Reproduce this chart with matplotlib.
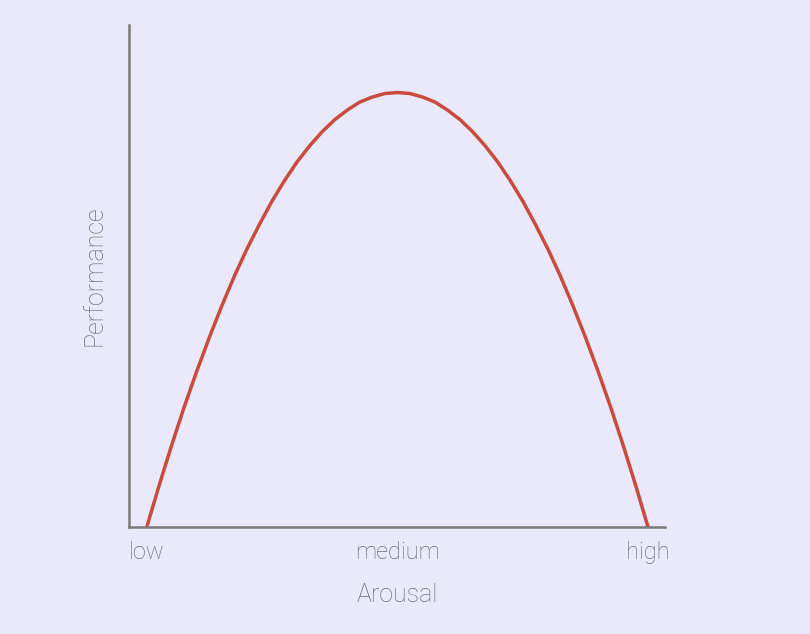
import matplotlib.pyplot as plt

# values
arousal = [0.0, 0.05, 0.1, 0.15, 0.2, 0.25, 0.3, 0.35, 0.4, 0.45, 0.5,
           0.55, 0.6, 0.65, 0.7, 0.75, 0.8, 0.85, 0.9, 0.95, 1.0,
           1.05, 1.1, 1.15, 1.2, 1.25, 1.3, 1.35, 1.4, 1.45, 1.5,
           1.55, 1.6, 1.65, 1.7, 1.75, 1.8, 1.85, 1.9, 1.95, 2.0]
performance = [0.0, 0.084, 0.164, 0.240, 0.311, 0.378, 0.441, 0.500, 0.554, 0.603, 0.649,
               0.690, 0.727, 0.759, 0.787, 0.811, 0.830, 0.846, 0.856, 0.863, 0.865,
               0.863, 0.856, 0.846, 0.830, 0.811, 0.787, 0.759, 0.727, 0.690, 0.649,
               0.603, 0.554, 0.500, 0.441, 0.378, 0.311, 0.240, 0.164, 0.084, 0.0]
tick_pos = [0, 1, 2]
tick_labels = ['low', 'medium', 'high']

plt.rcParams['font.family'] = ['Roboto', 'DejaVu Sans']

bg = '#EAE9FB'
fig = plt.figure(figsize=(8.1, 6.34), dpi=100, facecolor=bg)
ax = fig.add_axes([0.159, 0.169, 0.662, 0.792], facecolor=bg)
ax.plot(arousal, performance, color='#C94B3C', lw=2.5,
        solid_capstyle='round', solid_joinstyle='round')

ax.set_xlim(-0.072, 2.068)
ax.set_ylim(0, 1)
ax.set_xticks(tick_pos)
ax.set_xticklabels(tick_labels, fontsize=17, color='#6E6E6E', fontweight='light')
ax.set_yticks([])
ax.tick_params(axis='x', length=0, pad=10)
for s in ['top', 'right']:
    ax.spines[s].set_visible(False)
for s in ['left', 'bottom']:
    ax.spines[s].set_color('#7A7A7A')
    ax.spines[s].set_linewidth(1.8)

ax.set_xlabel('Arousal', fontsize=18, color='#6E6E6E', labelpad=14, fontweight='light')
ax.set_ylabel('Performance', fontsize=18, color='#6E6E6E', labelpad=16, fontweight='light')

fig.savefig('out.png', dpi=100, facecolor=bg)
